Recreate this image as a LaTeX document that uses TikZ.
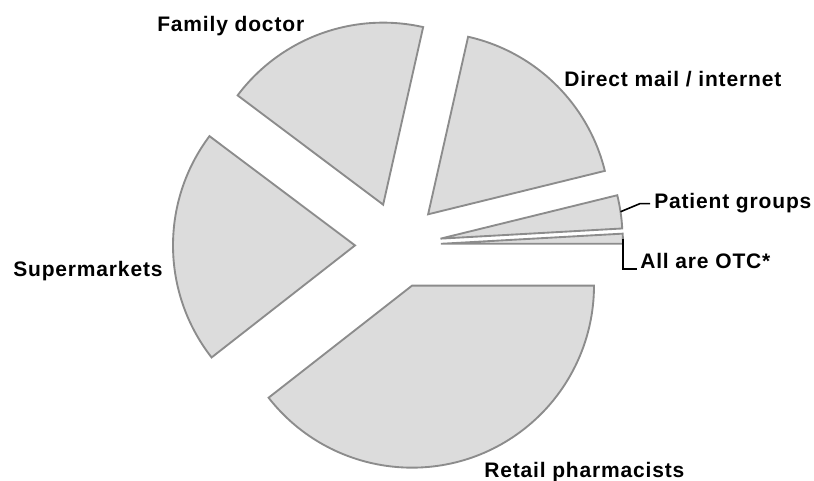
\documentclass[tikz,border=0pt]{standalone}
\usepackage{fontspec}
\setmainfont{Liberation Sans}[LetterSpace=4]
\usetikzlibrary{calc}
\definecolor{slicefill}{HTML}{DCDCDC}
\definecolor{sliceline}{HTML}{8C8C8C}
\tikzset{
  slice/.style={fill=slicefill, draw=sliceline, line width=1.4pt, line join=miter},
  leader/.style={draw=black, line width=1.2pt},
  lbl/.style={inner sep=0pt, anchor=base west, font=\fontsize{15.75pt}{18pt}\selectfont\bfseries}
}
\newcommand\pieslice[2]{%
  \draw[slice] ($(C)+({(#1+#2)/2}:43)$) -- ++(#1:182)
    arc[start angle=#1, end angle=#2, radius=136.5pt] -- cycle;}
\begin{document}
\begin{tikzpicture}[x=0.75pt, y=0.75pt]
\useasboundingbox (0,0) rectangle (814,481);
\coordinate (C) at (398,236);
% slices (angles measured counter-clockwise from east)
\pieslice{0}{3.2}
\pieslice{3.2}{13.8}
\pieslice{13.8}{77.3}
\pieslice{77.3}{143.1}
\pieslice{143.1}{218}
\pieslice{218}{360}
% labels
\node[lbl] (fd)  at (157,449) {Family doctor};
\node[lbl] (dm)  at (564,394) {Direct mail / internet};
\node[lbl] (pg)  at (654,272) {Patient groups};
\node[lbl] (otc) at (640,212) {All are OTC*};
\node[lbl] (sm)  at (13,204)  {Supermarkets};
\node[lbl] (rp)  at (484,3)   {Retail pharmacists};
% leaders
\coordinate (pg1) at ($(C)+(8.5:225)$);
\coordinate (pg2) at ($(pg.west)+(-14,0)$);
\draw[leader] (pg1) -- (pg2) -- ([xshift=-3pt]pg.west);
\coordinate (otc1) at ($(C)+(1.6:225)$);
\draw[leader] (otc1) |- ([xshift=-2.25pt]otc.base west);
\end{tikzpicture}
\end{document}
